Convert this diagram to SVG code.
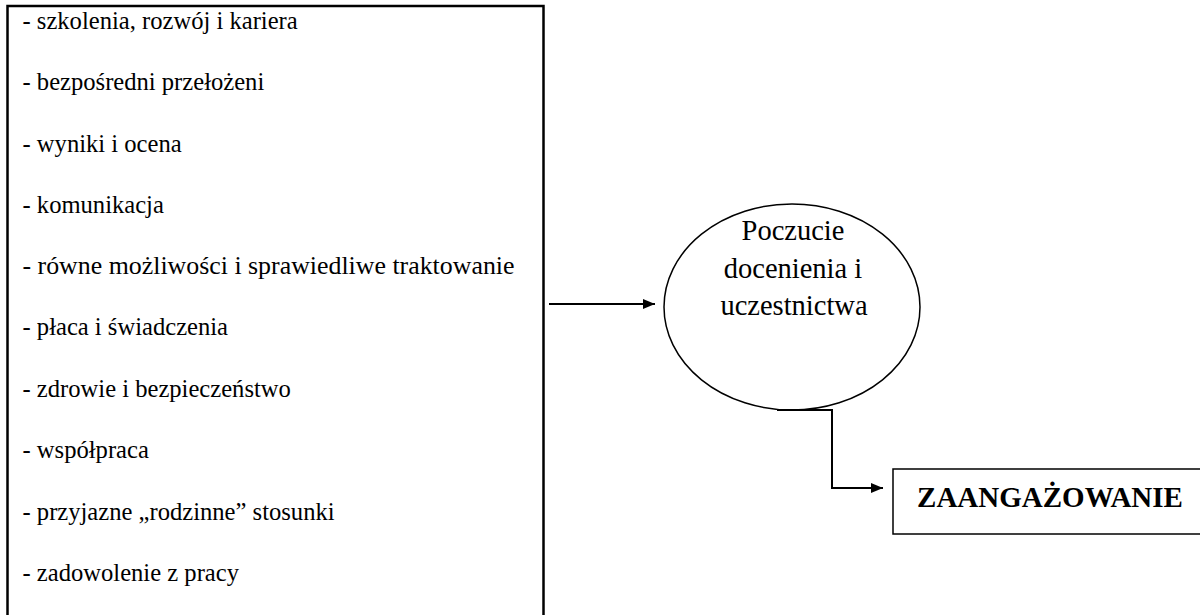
<svg xmlns="http://www.w3.org/2000/svg" width="1200" height="615" viewBox="0 0 1200 615">
<style>
.t{font-family:'Liberation Serif','DejaVu Serif',serif;font-size:24.6px;fill:#000}
.c{font-family:'Liberation Serif','DejaVu Serif',serif;font-size:28.5px;fill:#000;text-anchor:middle}
.b{font-family:'Liberation Serif','DejaVu Serif',serif;font-size:29px;font-weight:bold;fill:#000;text-anchor:middle}
.s{fill:none;stroke:#000}
</style>
<defs>
<marker id="ah" markerWidth="12" markerHeight="10" refX="12" refY="5" orient="auto" markerUnits="userSpaceOnUse">
<path d="M0,0 L12,5 L0,10 Z" fill="#000"/>
</marker>
</defs>
<rect width="1200" height="615" fill="#fff"/>
<g id="factors">
<rect class="s" x="7.5" y="6" width="536" height="620" stroke-width="2.5"/>
<text class="t" x="22.5" y="29">- szkolenia, rozwój i kariera</text>
<text class="t" x="22.5" y="90">- bezpośredni przełożeni</text>
<text class="t" x="22.5" y="152">- wyniki i ocena</text>
<text class="t" x="22.5" y="213">- komunikacja</text>
<text class="t" x="22.5" y="274" textLength="492" lengthAdjust="spacingAndGlyphs">- równe możliwości i sprawiedliwe traktowanie</text>
<text class="t" x="22.5" y="335">- płaca i świadczenia</text>
<text class="t" x="22.5" y="397">- zdrowie i bezpieczeństwo</text>
<text class="t" x="22.5" y="458"> - współpraca</text>
<text class="t" x="22.5" y="520">- przyjazne „rodzinne” stosunki</text>
<text class="t" x="22.5" y="581">- zadowolenie z pracy</text>
</g>
<g id="circle">
<ellipse class="s" cx="792" cy="307" rx="128" ry="103" stroke-width="1.5"/>
<text class="c" x="793" y="240">Poczucie</text>
<text class="c" x="793" y="278">docenienia i</text>
<text class="c" x="794" y="315">uczestnictwa</text>
</g>
<g id="engagement">
<rect class="s" x="893" y="469" width="320" height="65" stroke-width="1.5"/>
<text class="b" x="1050" y="507">ZAANGAŻOWANIE</text>
</g>
<g id="connectors">
<path class="s" d="M549,304 H655" stroke-width="2" marker-end="url(#ah)"/>
<path class="s" d="M777,410 H832 V488 H883" stroke-width="2" marker-end="url(#ah)"/>
</g>
</svg>
